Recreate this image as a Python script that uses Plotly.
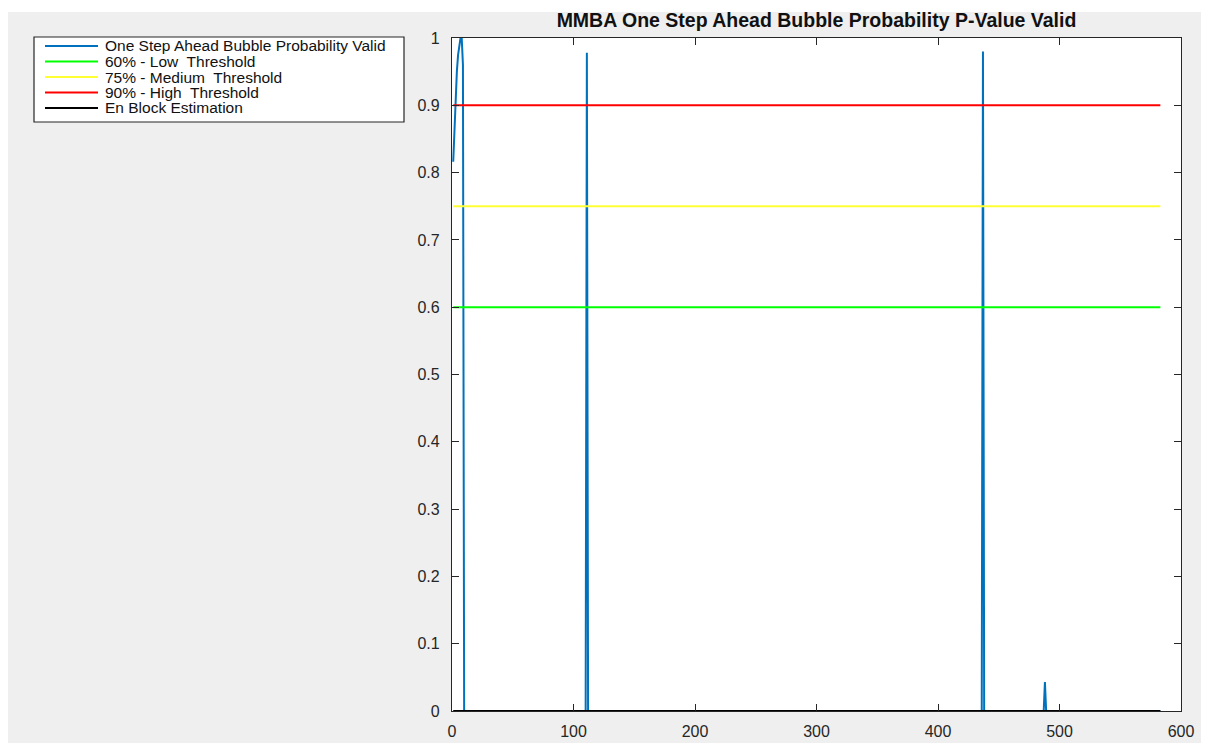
import plotly.graph_objects as go

# ---- data ----
title_text = "MMBA One Step Ahead Bubble Probability P-Value Valid"
series_names = [
    "One Step Ahead Bubble Probability Valid",
    "60% - Low  Threshold",
    "75% - Medium  Threshold",
    "90% - High  Threshold",
    "En Block Estimation",
]
series_colors = ["#0072BD", "#00FF00", "#FFFF33", "#FF0000", "#000000"]

prob_x = [1, 2, 3, 4, 5, 6, 7, 8, 9, 10, 11, 110, 111, 112, 113,
          436, 437, 438, 439, 487, 488, 489, 583]
prob_y = [0.816, 0.87, 0.915, 0.95, 0.975, 0.992, 1.0, 1.0, 0.96, 0.0, 0.0, 0.0, 0.978, 0.0, 0.0,
          0.0, 0.98, 0.0, 0.0, 0.0, 0.043, 0.0, 0.0]

x_start, x_end = 1, 583
thresholds = [0.60, 0.75, 0.90]
en_block = [0.0, 0.0]

x_ticks = [0, 100, 200, 300, 400, 500, 600]
y_ticks = [0, 0.1, 0.2, 0.3, 0.4, 0.5, 0.6, 0.7, 0.8, 0.9, 1]
y_tick_labels = ["0", "0.1", "0.2", "0.3", "0.4", "0.5", "0.6", "0.7", "0.8", "0.9", "1"]

# ---- layout geometry (page pixels; the html body adds an 8px offset) ----
OFF = 8
W, H = 1209 - OFF, 743 - OFF
L, R, T, B = 452 - OFF, 1181 - OFF, 38 - OFF, 711 - OFF
PW, PH = R - L, B - T


def px(xp):
    """page x pixel -> paper coordinate"""
    return (xp - OFF - L) / PW


def py(yp):
    """page y pixel -> paper coordinate"""
    return (B - (yp - OFF)) / PH


FONT = "Liberation Sans, Arial, Helvetica, sans-serif"
TXT = "#262626"

fig = go.Figure()

fig.add_trace(go.Scatter(x=prob_x, y=prob_y, mode="lines", name=series_names[0],
                         line=dict(color=series_colors[0], width=2),
                         showlegend=False))
for i, t in enumerate(thresholds):
    fig.add_trace(go.Scatter(x=[x_start, x_end], y=[t, t], mode="lines", name=series_names[i + 1],
                             line=dict(color=series_colors[i + 1], width=2), showlegend=False))
fig.add_trace(go.Scatter(x=[x_start, x_end], y=en_block, mode="lines", name=series_names[4],
                         line=dict(color=series_colors[4], width=2), showlegend=False))

shapes = []
annotations = []

# white strip at the top of the screenshot
shapes.append(dict(type="rect", xref="paper", yref="paper", layer="below",
                   x0=px(0), x1=px(1300), y0=py(12), y1=py(0),
                   fillcolor="white", line=dict(width=0)))

# manual legend box
shapes.append(dict(type="rect", xref="paper", yref="paper",
                   x0=px(34), x1=px(404), y0=py(122), y1=py(37),
                   fillcolor="white", line=dict(color="#262626", width=1.2)))
row_y = [46, 61.5, 77, 92.5, 108]
for name, color, yy in zip(series_names, series_colors, row_y):
    shapes.append(dict(type="line", xref="paper", yref="paper",
                       x0=px(45), x1=px(98), y0=py(yy), y1=py(yy),
                       line=dict(color=color, width=2)))
    annotations.append(dict(xref="paper", yref="paper", x=px(103), y=py(yy),
                            xanchor="left", yanchor="middle", showarrow=False,
                            text=name, font=dict(family=FONT, size=15.5, color="#111111")))

fig.update_layout(
    width=W, height=H,
    margin=dict(l=L, r=W - R, t=T, b=H - B, pad=0, autoexpand=False),
    paper_bgcolor="#EFEFEF",
    plot_bgcolor="white",
    showlegend=False,
    title=dict(text="<b>" + title_text + "</b>", xref="paper", x=0.5, xanchor="center",
               yref="container", y=1 - (20 - OFF) / H, yanchor="middle",
               font=dict(family=FONT, size=19.5, color="#111111")),
    xaxis=dict(range=[0, 600], tickvals=x_ticks, ticks="inside", ticklen=7, tickcolor=TXT,
               showline=True, linecolor=TXT, linewidth=1.2, mirror="ticks", showgrid=False,
               zeroline=False, tickfont=dict(family=FONT, size=16, color=TXT),
               ticklabelstandoff=6, automargin=False),
    yaxis=dict(range=[0, 1], tickvals=y_ticks, ticktext=y_tick_labels, ticks="inside", ticklen=7,
               tickcolor=TXT, showline=True, linecolor=TXT, linewidth=1.2, mirror="ticks",
               showgrid=False, zeroline=False, tickfont=dict(family=FONT, size=16, color=TXT),
               ticklabelstandoff=8, automargin=False),
    shapes=shapes,
    annotations=annotations,
)

fig.write_html("out.html")
